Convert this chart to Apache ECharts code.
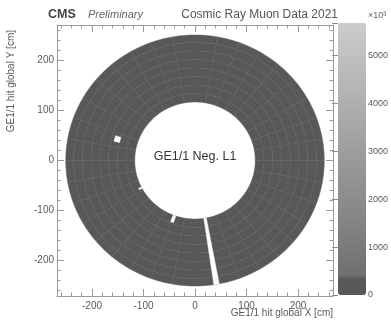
<!DOCTYPE html>
<html>
<head>
<meta charset="utf-8">
<script src="https://cdn.jsdelivr.net/npm/echarts@6/dist/echarts.min.js"></script>
<style>
  html, body { margin: 0; padding: 0; background: #ffffff; }
  #chart { width: 391px; height: 322px; }
</style>
</head>
<body>
<div id="chart"></div>
<script>
// GE1/1 negative endcap, layer 1: hit occupancy per chamber (10 deg wide) and eta partition
const chamberEdgesDeg = [-180, -170, -160, -150, -140, -130, -120, -110, -100, -90, -80, -70, -60,
  -50, -40, -30, -20, -10, 0, 10, 20, 30, 40, 50, 60, 70, 80, 90, 100, 110, 120, 130, 140, 150,
  160, 170, 180];
const partitionEdgesCm = [117, 134, 151, 168, 185, 202, 219, 236, 251];

// hits per cell: one row per eta partition (inner to outer), one value per chamber
const hitsEta1 = [262, 270, 255, 281, 266, 259, 274, 268, 251, 263, 277, 260, 265, 272, 258, 269, 261, 276, 270, 264, 257, 273, 266, 262, 279, 268, 255, 263, 271, 259, 267, 274, 261, 258, 270, 265];
const hitsEta2 = [275, 268, 281, 272, 264, 279, 270, 262, 276, 283, 269, 274, 266, 271, 280, 263, 277, 268, 272, 285, 266, 270, 278, 261, 273, 269, 282, 275, 264, 277, 271, 266, 279, 272, 268, 274];
const hitsEta3 = [284, 279, 290, 276, 287, 281, 274, 292, 283, 278, 286, 280, 293, 275, 284, 289, 277, 282, 291, 279, 285, 276, 288, 283, 280, 294, 278, 286, 281, 275, 290, 284, 279, 287, 282, 276];
const hitsEta4 = [292, 298, 287, 301, 294, 289, 303, 291, 296, 285, 299, 293, 288, 302, 295, 290, 297, 286, 300, 294, 289, 296, 304, 291, 287, 298, 293, 301, 288, 295, 299, 290, 286, 303, 297, 292];
const hitsEta5 = [305, 299, 312, 303, 296, 309, 301, 314, 298, 306, 302, 311, 297, 304, 310, 300, 308, 295, 313, 303, 299, 307, 301, 296, 312, 305, 300, 309, 298, 306, 303, 311, 297, 304, 308, 301];
const hitsEta6 = [314, 320, 309, 318, 323, 311, 316, 307, 321, 313, 319, 310, 324, 315, 308, 317, 322, 312, 306, 319, 314, 325, 310, 318, 313, 320, 309, 316, 322, 311, 317, 308, 321, 315, 312, 319];
const hitsEta7 = [326, 319, 331, 324, 317, 329, 322, 334, 320, 327, 318, 332, 325, 316, 330, 323, 328, 321, 335, 319, 326, 322, 329, 317, 333, 324, 320, 328, 318, 331, 325, 321, 327, 334, 319, 323];
const hitsEta8 = [333, 340, 328, 337, 344, 331, 336, 327, 342, 334, 339, 330, 345, 335, 329, 338, 343, 332, 326, 341, 336, 346, 330, 339, 333, 341, 329, 337, 343, 332, 338, 328, 340, 335, 331, 342];
const hitsByPartition = [hitsEta1, hitsEta2, hitsEta3, hitsEta4, hitsEta5, hitsEta6, hitsEta7, hitsEta8];

// regions without hits: [phiFrom, phiTo] in degrees, [rFrom, rTo] in cm
const deadPhiDeg = [[-81.6, -79.2], [-111.2, -108.6], [162.2, 166.2], [-153.0, -151.6]];
const deadRadiusCm = [[117, 251], [117, 131], [151, 162], [117, 123]];

const xTickLabels = [-200, -100, 0, 100, 200];
const yTickLabels = [-200, -100, 0, 100, 200];
const colorbarTicks = [0, 1000, 2000, 3000, 4000, 5000];
const colorbarMax = 5670;

const cells = [];
hitsByPartition.forEach((row, eta) => {
  row.forEach((value, chamber) => cells.push([chamber, eta, value]));
});
const deadCells = deadPhiDeg.map((phi, i) => [phi[0], phi[1], deadRadiusCm[i][0], deadRadiusCm[i][1]]);

// grey palette with a darker first band
const paletteStops = [];
(function () {
  const n = 128, band = 400 / colorbarMax;
  for (let i = 0; i < n; i++) {
    const t = i / (n - 1);
    let g;
    if (t <= band) g = 0x58;
    else g = Math.round(0x70 + (0xcc - 0x70) * (t - band) / (1 - band));
    const h = g.toString(16).padStart(2, '0');
    paletteStops.push('#' + h + h + h);
  }
})();

function annularSector(api, phiA, phiB, rA, rB) {
  const steps = Math.max(2, Math.ceil(Math.abs(phiB - phiA) / 1.25));
  const pts = [];
  for (let i = 0; i <= steps; i++) {
    const p = (phiA + (phiB - phiA) * i / steps) * Math.PI / 180;
    pts.push(api.coord([rA * Math.cos(p), rA * Math.sin(p)]));
  }
  for (let i = steps; i >= 0; i--) {
    const p = (phiA + (phiB - phiA) * i / steps) * Math.PI / 180;
    pts.push(api.coord([rB * Math.cos(p), rB * Math.sin(p)]));
  }
  return pts;
}

const font = 'Liberation Sans, Arial, Helvetica, sans-serif';
const frameColor = '#9a9a9a';
const labelColor = '#5a5a5a';

function frameAxis(extra) {
  return Object.assign({
    type: 'value',
    min: extra.min, max: extra.max,
    splitNumber: 5,
    axisLine: { show: true, onZero: false, lineStyle: { color: frameColor, width: 1 } },
    axisTick: { show: true, inside: true, length: 7, lineStyle: { color: frameColor } },
    minorTick: { show: true, splitNumber: 5, length: 3.5, lineStyle: { color: frameColor } },
    splitLine: { show: false },
    axisLabel: { show: false }
  }, extra);
}

const tickLabel = (list) => ({
  show: true,
  color: labelColor, fontSize: 10, fontFamily: font,
  showMinLabel: false, showMaxLabel: false,
  formatter: (v) => (list.indexOf(v) >= 0 ? String(v) : '')
});

const option = {
  animation: false,
  backgroundColor: '#ffffff',
  grid: [
    { left: 57, top: 25, width: 276, height: 271 },
    { left: 338, top: 23, width: 28, height: 272 }
  ],
  xAxis: [
    frameAxis({ gridIndex: 0, position: 'bottom', min: -268, max: 268,
      axisLabel: Object.assign(tickLabel(xTickLabels), { margin: 5 }) }),
    frameAxis({ gridIndex: 0, position: 'top', min: -268, max: 268 }),
    { type: 'value', gridIndex: 1, show: false, min: 0, max: 1 }
  ],
  yAxis: [
    frameAxis({ gridIndex: 0, position: 'left', min: -271, max: 271,
      axisLabel: Object.assign(tickLabel(yTickLabels), { margin: 3 }) }),
    frameAxis({ gridIndex: 0, position: 'right', min: -271, max: 271 }),
    {
      type: 'value', gridIndex: 1, position: 'right', min: 0, max: colorbarMax, interval: 1000, z: 10,
      axisLine: { show: false },
      axisTick: { show: true, inside: true, length: 6, lineStyle: { color: '#8a8a8a' } },
      splitLine: { show: false },
      axisLabel: { color: labelColor, fontSize: 9, fontFamily: font, margin: 3,
        formatter: (v) => (colorbarTicks.indexOf(v) >= 0 ? String(v) : '') }
    }
  ],
  visualMap: {
    type: 'continuous',
    seriesIndex: 0,
    dimension: 2,
    min: 0, max: colorbarMax,
    calculable: false,
    hoverLink: false,
    orient: 'vertical',
    left: 338, top: 23,
    itemWidth: 28, itemHeight: 272,
    padding: 0,
    text: null,
    z: 2,
    inRange: { color: paletteStops }
  },
  series: [
    {
      type: 'custom',
      coordinateSystem: 'cartesian2d',
      xAxisIndex: 0, yAxisIndex: 0,
      data: cells,
      silent: true,
      renderItem: function (params, api) {
        const c = api.value(0), e = api.value(1);
        const pts = annularSector(api, chamberEdgesDeg[c], chamberEdgesDeg[c + 1],
          partitionEdgesCm[e], partitionEdgesCm[e + 1]);
        return {
          type: 'polygon',
          shape: { points: pts },
          style: { fill: api.visual('color'), stroke: '#5f5f5f', lineWidth: 0.5 }
        };
      }
    },
    {
      type: 'custom',
      coordinateSystem: 'cartesian2d',
      xAxisIndex: 0, yAxisIndex: 0,
      data: deadCells,
      silent: true,
      z: 3,
      renderItem: function (params, api) {
        const pts = annularSector(api, api.value(0), api.value(1), api.value(2), api.value(3));
        return {
          type: 'polygon',
          shape: { points: pts },
          style: { fill: '#ffffff', stroke: '#ffffff', lineWidth: 0.5 }
        };
      }
    }
  ],
  graphic: [
    { type: 'text', left: 48, top: 8, style: { text: 'CMS', font: 'bold 12.5px ' + font, fill: '#444' } },
    { type: 'text', left: 88, top: 9, style: { text: 'Preliminary', font: 'italic 11px ' + font, fill: '#666' } },
    { type: 'text', x: 338, y: 15, style: { text: 'Cosmic Ray Muon Data 2021', font: '12px ' + font, fill: '#555', align: 'right', verticalAlign: 'middle' } },
    { type: 'text', x: 368, y: 16, style: { text: '×10³', font: '9px ' + font, fill: '#666', align: 'left', verticalAlign: 'middle' } },
    { type: 'text', x: 333, y: 313, style: { text: 'GE1/1 hit global X [cm]', font: '10px ' + font, fill: '#5a5a5a', align: 'right', verticalAlign: 'middle' } },
    { type: 'text', x: 11, y: 30, rotation: Math.PI / 2, style: { text: 'GE1/1 hit global Y [cm]', font: '10px ' + font, fill: '#5a5a5a', align: 'right', verticalAlign: 'middle' } },
    { type: 'text', x: 195, y: 157, z: 20, style: { text: 'GE1/1 Neg. L1', font: '12.5px ' + font, fill: '#333', align: 'center', verticalAlign: 'middle' } }
  ]
};

const chart = echarts.init(document.getElementById('chart'));
chart.setOption(option);
</script>
</body>
</html>
